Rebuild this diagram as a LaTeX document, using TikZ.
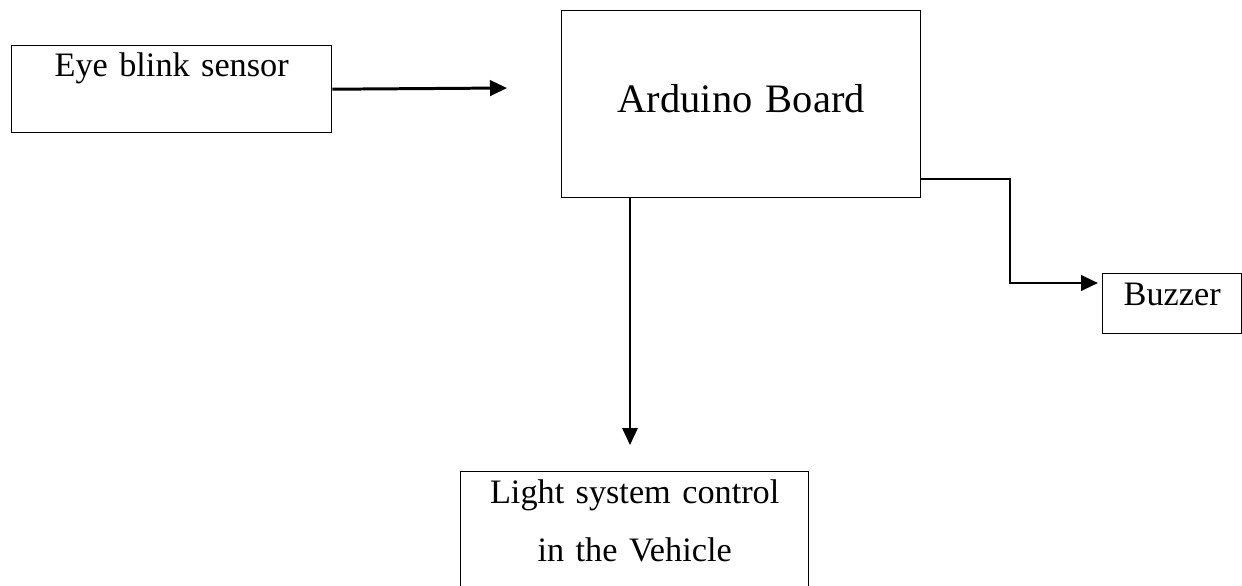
\documentclass[tikz,border=0pt]{standalone}
\usepackage{fontspec}
\setmainfont{Liberation Serif}
\usetikzlibrary{arrows.meta,positioning}

\begin{document}
\begin{tikzpicture}[
  >={Triangle[length=0.34cm,width=0.31cm]},
  block/.style={draw, line width=0.8pt, inner sep=0pt, align=center, anchor=north west, font=\fontsize{19.5}{33}\selectfont},
  flow/.style={->, line width=1.5pt}
]
  \useasboundingbox (0,0) rectangle (24.84,-11.72);
  \node[block, text width=6.4cm, text height=0.62cm, text depth=1.12cm] (eye) at (0.22,-0.9) {Eye blink sensor};
  \node[block, text width=7.18cm, text height=2.04cm, text depth=1.7cm, font=\fontsize{23}{28}\selectfont] (ard) at (11.22,-0.2) {Arduino Board};
  \node[block, text width=2.78cm, text height=0.64cm, text depth=0.56cm] (buzz) at (22.04,-5.46) {Buzzer};
  \node[block, text width=6.96cm, text height=0.64cm, text depth=2.34cm] (light) at (9.2,-9.42) {Light system control\\in the Vehicle};

  \coordinate (eyetip) at (10.14,-1.76);
  \coordinate (lighttip) at (12.6,-8.9);
  \coordinate (buzzbend) at (20.2,-3.58);
  \coordinate (buzztip) at (21.96,-5.66);
  \draw[flow, line width=1.7pt] (eye.east) -- (eyetip);
  \draw[flow, line width=0.9pt] (ard.south -| lighttip) -- (lighttip);
  \draw[flow] (ard.east |- buzzbend) -- (buzzbend) |- (buzztip);
\end{tikzpicture}
\end{document}
